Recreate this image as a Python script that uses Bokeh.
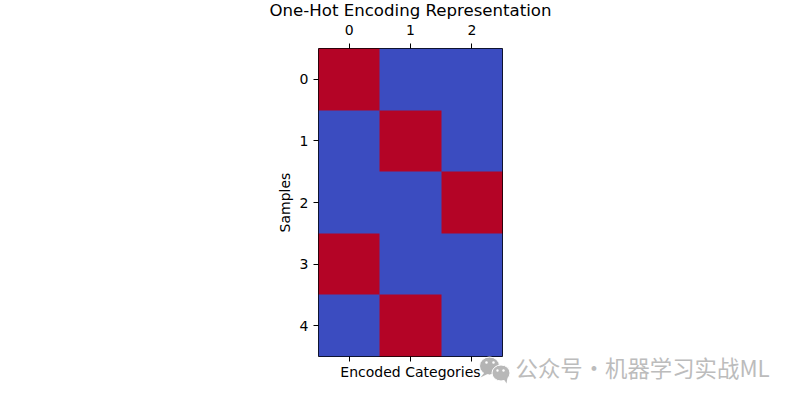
import numpy as np
from bokeh.embed import file_html
from bokeh.resources import INLINE
from bokeh.plotting import figure
from bokeh.models import LinearAxis, FixedTicker, LinearColorMapper
from bokeh.core.properties import value

# One-hot encoded rows (samples x categories)
row_0 = [1, 0, 0]
row_1 = [0, 1, 0]
row_2 = [0, 0, 1]
row_3 = [1, 0, 0]
row_4 = [0, 1, 0]
x_ticks = [0, 1, 2]
y_ticks = [0, 1, 2, 3, 4]
title = "One-Hot Encoding Representation"
x_label = "Encoded Categories"
y_label = "Samples"
watermark = "公众号·机器学习实战ML"

BLUE, RED = "#3b4cc0", "#b40426"
FONT = "DejaVu Sans"
INK = "#000000"
W, H = 784, 384
L, T, FW, FH = 318, 48, 184, 308

matrix = np.array([row_0, row_1, row_2, row_3, row_4], dtype=float)

p = figure(width=W, height=H, frame_width=FW, frame_height=FH,
           x_range=(-0.5, 2.5), y_range=(4.5, -0.5),
           x_axis_location=None, y_axis_location=None,
           output_backend="svg", toolbar_location=None, tools="")
p.min_border_left, p.min_border_right, p.min_border_top, p.min_border_bottom = L, W - L - FW, T, H - T - FH
p.grid.visible = False
p.background_fill_color = None
p.outline_line_color = INK
p.outline_line_width = 1

mapper = LinearColorMapper(palette=[BLUE, RED], low=0, high=1)
p.image(image=[matrix], x=-0.5, y=-0.5, dw=3, dh=5, color_mapper=mapper)


def style(ax):
    ax.axis_line_color = None
    ax.major_tick_line_color = INK
    ax.major_tick_line_width = 1
    ax.major_tick_in = 0
    ax.major_tick_out = 5
    ax.minor_tick_line_color = None
    ax.major_label_text_font = FONT
    ax.major_label_text_font_size = "14px"
    ax.major_label_text_color = INK
    ax.major_label_standoff = 5
    ax.axis_label_text_font = FONT
    ax.axis_label_text_font_size = "14px"
    ax.axis_label_text_font_style = "normal"
    ax.axis_label_text_color = INK


top = LinearAxis(ticker=FixedTicker(ticks=x_ticks))
style(top)
top.major_label_standoff = 9
p.add_layout(top, "above")

bottom = LinearAxis(ticker=FixedTicker(ticks=x_ticks), axis_label=x_label,
                    major_label_overrides={t: "" for t in x_ticks})
style(bottom)
bottom.axis_label_standoff = 2
p.add_layout(bottom, "below")

left = LinearAxis(ticker=FixedTicker(ticks=y_ticks), axis_label=y_label)
style(left)
left.axis_label_standoff = 4
p.add_layout(left, "left")

# transparent full-page layer for the title and the watermark, in page pixels
o = figure(width=W, height=H, x_range=(0, W), y_range=(H, 0),
           x_axis_location=None, y_axis_location=None,
           output_backend="svg", toolbar_location=None, tools="", min_border=0,
           margin=(-H, 0, 0, 0))
o.grid.visible = False
o.outline_line_color = None
o.background_fill_color = None
o.border_fill_color = None

o.text(x=[410], y=[10], text=[title], text_font=value(FONT), text_font_size="16.6px",
       text_color=INK, text_align="center", text_baseline="middle")
o.ellipse(x=[489], y=[365.5], width=[20], height=[18], fill_color="#b4b4b4", line_color="white", line_width=1)
o.patch(x=[484, 480, 488], y=[372, 377, 373], fill_color="#b4b4b4", line_color=None)
o.ellipse(x=[500.5], y=[372.5], width=[18], height=[16], fill_color="#b8b8b8", line_color="white", line_width=1)
o.patch(x=[503, 506, 507], y=[378, 383, 377], fill_color="#b8b8b8", line_color=None)
o.ellipse(x=[486, 493], y=[362, 362], width=[2.6, 2.6], height=[2.6, 2.6], fill_color="white", line_color=None)
o.ellipse(x=[497, 503], y=[370, 370], width=[2.4, 2.4], height=[2.4, 2.4], fill_color="white", line_color=None)
o.text(x=[515], y=[366], text=[watermark], text_font=value("Noto Sans CJK SC"), text_font_size="22.4px",
       text_color="#bcbcbc", text_align="left", text_baseline="middle")

open("out.html", "w").write(file_html([p, o], INLINE))
